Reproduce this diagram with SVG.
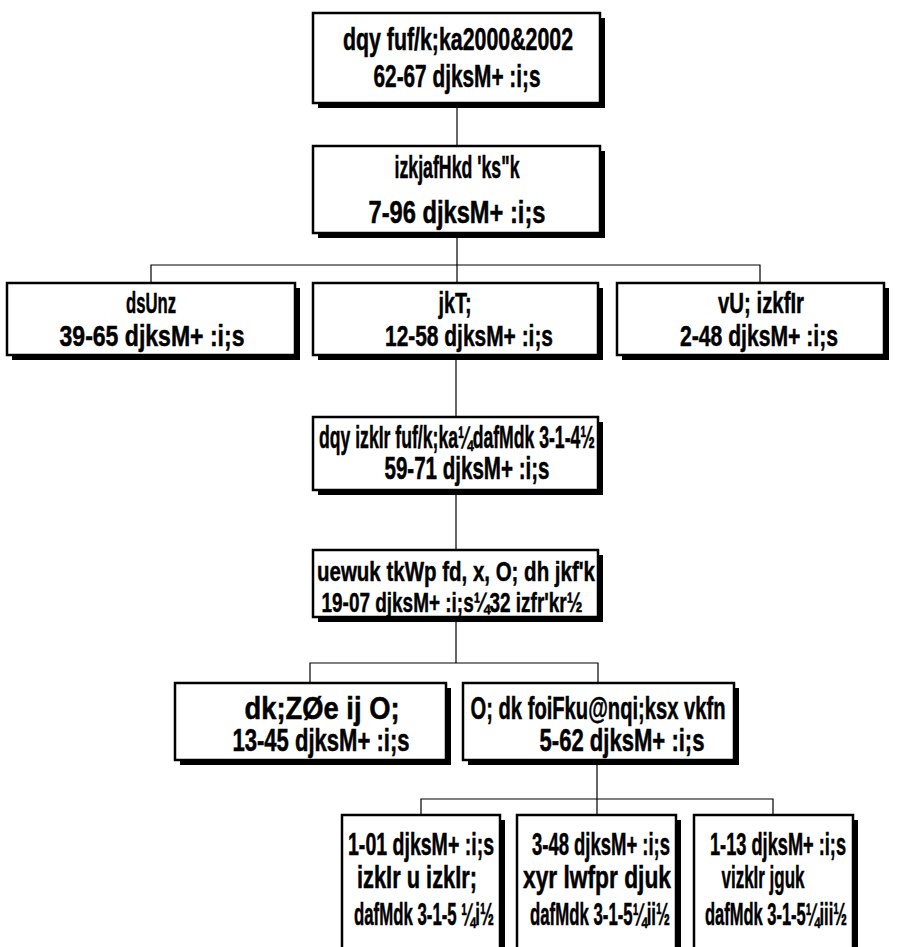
<svg xmlns="http://www.w3.org/2000/svg" width="897" height="947" viewBox="0 0 897 947">
<style>
.sh{fill:#000}
.bx{fill:#fff;stroke:#000;stroke-width:2.5}
.t{font-family:"Liberation Sans",Arial,sans-serif;font-weight:bold;font-size:18px;fill:#000;stroke:#000;stroke-width:0.3;text-anchor:middle}
.c{stroke:#000;stroke-width:1.2;fill:none}
</style>
<g id="connectors">
<path class="c" d="M457 103V146"/>
<path class="c" d="M457 233V283M151 283V265H760V283"/>
<path class="c" d="M456 355V417"/>
<path class="c" d="M456 490V550"/>
<path class="c" d="M456 617V663M310 683V663H598V683"/>
<path class="c" d="M597 760V815M421 815V799H773V815"/>
</g>
<g id="n1">
<rect class="sh" x="318" y="18" width="287" height="90"/>
<rect class="bx" x="313" y="13" width="287" height="90"/>
<text class="t" transform="translate(458 50) scale(1 1.72)" textLength="230" lengthAdjust="spacingAndGlyphs">dqy fuf/k;ka2000&amp;2002</text>
<text class="t" transform="translate(457 87) scale(1 1.72)" textLength="167" lengthAdjust="spacingAndGlyphs">62-67 djksM+ :i;s</text>
</g>
<g id="n2">
<rect class="sh" x="318" y="151" width="287" height="87"/>
<rect class="bx" x="313" y="146" width="287" height="87"/>
<text class="t" transform="translate(457 178) scale(1 1.72)" textLength="125" lengthAdjust="spacingAndGlyphs">izkjafHkd 'ks"k</text>
<text class="t" transform="translate(457 223) scale(1 1.72)" textLength="177" lengthAdjust="spacingAndGlyphs">7-96 djksM+ :i;s</text>
</g>
<g id="n3">
<rect class="sh" x="12" y="288" width="288" height="72"/>
<rect class="bx" x="7" y="283" width="288" height="72"/>
<text class="t" transform="translate(151 313) scale(1 1.6)" textLength="50" lengthAdjust="spacingAndGlyphs">dsUnz</text>
<text class="t" transform="translate(152 346) scale(1 1.6)" textLength="185" lengthAdjust="spacingAndGlyphs">39-65 djksM+ :i;s</text>
</g>
<g id="n4">
<rect class="sh" x="318" y="288" width="285" height="72"/>
<rect class="bx" x="313" y="283" width="285" height="72"/>
<text class="t" transform="translate(455 313) scale(1 1.6)" textLength="33" lengthAdjust="spacingAndGlyphs">jkT;</text>
<text class="t" transform="translate(469 346) scale(1 1.6)" textLength="168" lengthAdjust="spacingAndGlyphs">12-58 djksM+ :i;s</text>
</g>
<g id="n5">
<rect class="sh" x="622" y="288" width="267" height="72"/>
<rect class="bx" x="617" y="283" width="267" height="72"/>
<text class="t" transform="translate(761 313) scale(1 1.6)" textLength="86" lengthAdjust="spacingAndGlyphs">vU; izkfIr</text>
<text class="t" transform="translate(759 346) scale(1 1.6)" textLength="158" lengthAdjust="spacingAndGlyphs">2-48 djksM+ :i;s</text>
</g>
<g id="n6">
<rect class="sh" x="318" y="422" width="285" height="73"/>
<rect class="bx" x="313" y="417" width="285" height="73"/>
<text class="t" transform="translate(457 448) scale(1 1.72)" textLength="276" lengthAdjust="spacingAndGlyphs">dqy izkIr fuf/k;ka¼dafMdk 3-1-4½</text>
<text class="t" transform="translate(467 479) scale(1 1.72)" textLength="165" lengthAdjust="spacingAndGlyphs">59-71 djksM+ :i;s</text>
</g>
<g id="n7">
<rect class="sh" x="318" y="555" width="285" height="67"/>
<rect class="bx" x="313" y="550" width="285" height="67"/>
<text class="t" transform="translate(456 581) scale(1 1.55)" textLength="278" lengthAdjust="spacingAndGlyphs">uewuk tkWp fd, x, O; dh jkf'k</text>
<text class="t" transform="translate(452 612) scale(1 1.55)" textLength="261" lengthAdjust="spacingAndGlyphs">19-07 djksM+ :i;s¼32 izfr'kr½</text>
</g>
<g id="n8">
<rect class="sh" x="180" y="688" width="271" height="77"/>
<rect class="bx" x="175" y="683" width="271" height="77"/>
<text class="t" transform="translate(322 719) scale(1 1.72)" textLength="155" lengthAdjust="spacingAndGlyphs">dk;ZØe ij O;</text>
<text class="t" transform="translate(321 751) scale(1 1.72)" textLength="177" lengthAdjust="spacingAndGlyphs">13-45 djksM+ :i;s</text>
</g>
<g id="n9">
<rect class="sh" x="468" y="688" width="271" height="77"/>
<rect class="bx" x="463" y="683" width="271" height="77"/>
<text class="t" transform="translate(598 719) scale(1 1.72)" textLength="255" lengthAdjust="spacingAndGlyphs">O; dk foiFku@nqi;ksx vkfn</text>
<text class="t" transform="translate(622 751) scale(1 1.72)" textLength="165" lengthAdjust="spacingAndGlyphs">5-62 djksM+ :i;s</text>
</g>
<g id="n10">
<rect class="sh" x="347" y="820" width="158" height="140"/>
<rect class="bx" x="342" y="815" width="158" height="140"/>
<text class="t" transform="translate(421 855) scale(1 1.72)" textLength="146" lengthAdjust="spacingAndGlyphs">1-01 djksM+ :i;s</text>
<text class="t" transform="translate(417 888) scale(1 1.72)" textLength="120" lengthAdjust="spacingAndGlyphs">izkIr u izkIr;</text>
<text class="t" transform="translate(424 925) scale(1 1.72)" textLength="140" lengthAdjust="spacingAndGlyphs">dafMdk 3-1-5 ¼i½</text>
</g>
<g id="n11">
<rect class="sh" x="522" y="820" width="159" height="140"/>
<rect class="bx" x="517" y="815" width="159" height="140"/>
<text class="t" transform="translate(601 855) scale(1 1.72)" textLength="138" lengthAdjust="spacingAndGlyphs">3-48 djksM+ :i;s</text>
<text class="t" transform="translate(597 888) scale(1 1.72)" textLength="148" lengthAdjust="spacingAndGlyphs">xyr lwfpr djuk</text>
<text class="t" transform="translate(600 925) scale(1 1.72)" textLength="140" lengthAdjust="spacingAndGlyphs">dafMdk 3-1-5¼ii½</text>
</g>
<g id="n12">
<rect class="sh" x="699" y="820" width="159" height="140"/>
<rect class="bx" x="694" y="815" width="159" height="140"/>
<text class="t" transform="translate(778 855) scale(1 1.72)" textLength="136" lengthAdjust="spacingAndGlyphs">1-13 djksM+ :i;s</text>
<text class="t" transform="translate(763 888) scale(1 1.72)" textLength="83" lengthAdjust="spacingAndGlyphs">vizkIr jguk</text>
<text class="t" transform="translate(776 925) scale(1 1.72)" textLength="142" lengthAdjust="spacingAndGlyphs">dafMdk 3-1-5¼iii½</text>
</g>
</svg>
